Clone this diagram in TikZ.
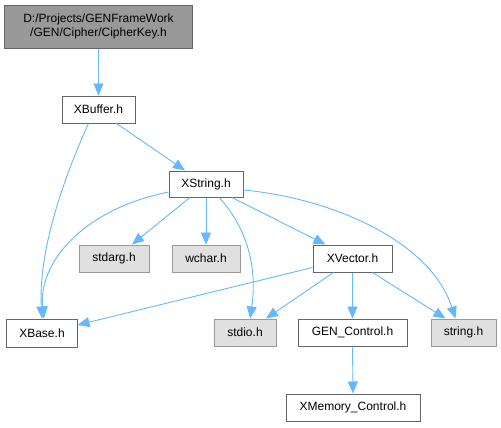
\documentclass[tikz,border=0pt]{standalone}
\usepackage{fontspec}
\setmainfont{Liberation Sans}
\usetikzlibrary{arrows.meta,calc}
\definecolor{edgec}{HTML}{63B8FF}
\definecolor{darkb}{HTML}{666666}
\definecolor{grayb}{HTML}{999999}
\definecolor{grayf}{HTML}{E0E0E0}
\tikzset{
  filebox/.style={draw=darkb, fill=white, line width=1bp, inner sep=0pt, font=\fontsize{12bp}{14bp}\selectfont},
  sysbox/.style={draw=grayb, fill=grayf, line width=1bp, inner sep=0pt, font=\fontsize{12bp}{14bp}\selectfont},
  rootbox/.style={draw=darkb, fill=grayb, line width=1bp, inner sep=0pt, align=center, font=\fontsize{12bp}{14bp}\selectfont},
  dep/.style={draw=edgec, line width=0.9bp, -{Triangle[length=12bp,width=10bp]}}
}
\begin{document}
\begin{tikzpicture}[x=1bp,y=-1bp]
\useasboundingbox (0,0) rectangle (501,427);
\node[rootbox, minimum width=187bp, minimum height=43bp] (root) at (98.5,26.5) {D:/Projects/GENFrameWork\\/GEN/Cipher/CipherKey.h};
\node[filebox, minimum width=73bp, minimum height=27bp] (xbuffer) at (98.5,109.5) {XBuffer.h};
\node[filebox, minimum width=74bp, minimum height=26bp] (xstring) at (206,184) {XString.h};
\node[sysbox, minimum width=70bp, minimum height=27bp] (stdarg) at (114,258.5) {stdarg.h};
\node[sysbox, minimum width=68bp, minimum height=27bp] (wchar) at (206,258.5) {wchar.h};
\node[filebox, minimum width=79bp, minimum height=27bp] (xvector) at (352.5,258.5) {XVector.h};
\node[filebox, minimum width=70bp, minimum height=28bp] (xbase) at (42,333) {XBase.h};
\node[sysbox, minimum width=62bp, minimum height=27bp] (stdio) at (245,332.5) {stdio.h};
\node[filebox, minimum width=109bp, minimum height=27bp] (genctrl) at (352.5,332.5) {GEN\_Control.h};
\node[sysbox, minimum width=65bp, minimum height=27bp] (stringh) at (463.5,332.5) {string.h};
\node[filebox, minimum width=134bp, minimum height=27bp] (xmem) at (353,407.5) {XMemory\_Control.h};

\draw[dep] (root.south) -- (xbuffer.north);
\draw[dep] ($(xbuffer.south)+(-10,0)$) .. controls (65,175) and (38,250) .. ($(xbase.north)+(0,0)$);
\draw[dep] ($(xbuffer.south)+(18,0)$) -- ($(xstring.north)+(-21,0)$);
\draw[dep] ($(xstring.west)+(0,8)$) .. controls (80,210) and (38,265) .. ($(xbase.north)+(2,0)$);
\draw[dep] ($(xstring.south)+(-16,0)$) -- ($(stdarg.north)+(18,0)$);
\draw[dep] (xstring.south) -- (wchar.north);
\draw[dep] ($(xstring.south)+(13,0)$) .. controls (245,225) and (258,265) .. ($(stdio.north)+(5,0)$);
\draw[dep] ($(xstring.south)+(26,0)$) -- ($(xvector.north)+(-27,0)$);
\draw[dep] ($(xstring.east)+(0,6)$) .. controls (330,198) and (430,240) .. ($(stringh.north)+(-8,0)$);
\draw[dep] ($(xvector.west)+(0,9)$) -- ($(xbase.east)+(0,-8)$);
\draw[dep] ($(xvector.south)+(-19,0)$) -- ($(stdio.north)+(21,0)$);
\draw[dep] (xvector.south) -- (genctrl.north);
\draw[dep] ($(xvector.south)+(20,0)$) -- ($(stringh.north)+(-18,0)$);
\draw[dep] (genctrl.south) -- (xmem.north);
\end{tikzpicture}
\end{document}
